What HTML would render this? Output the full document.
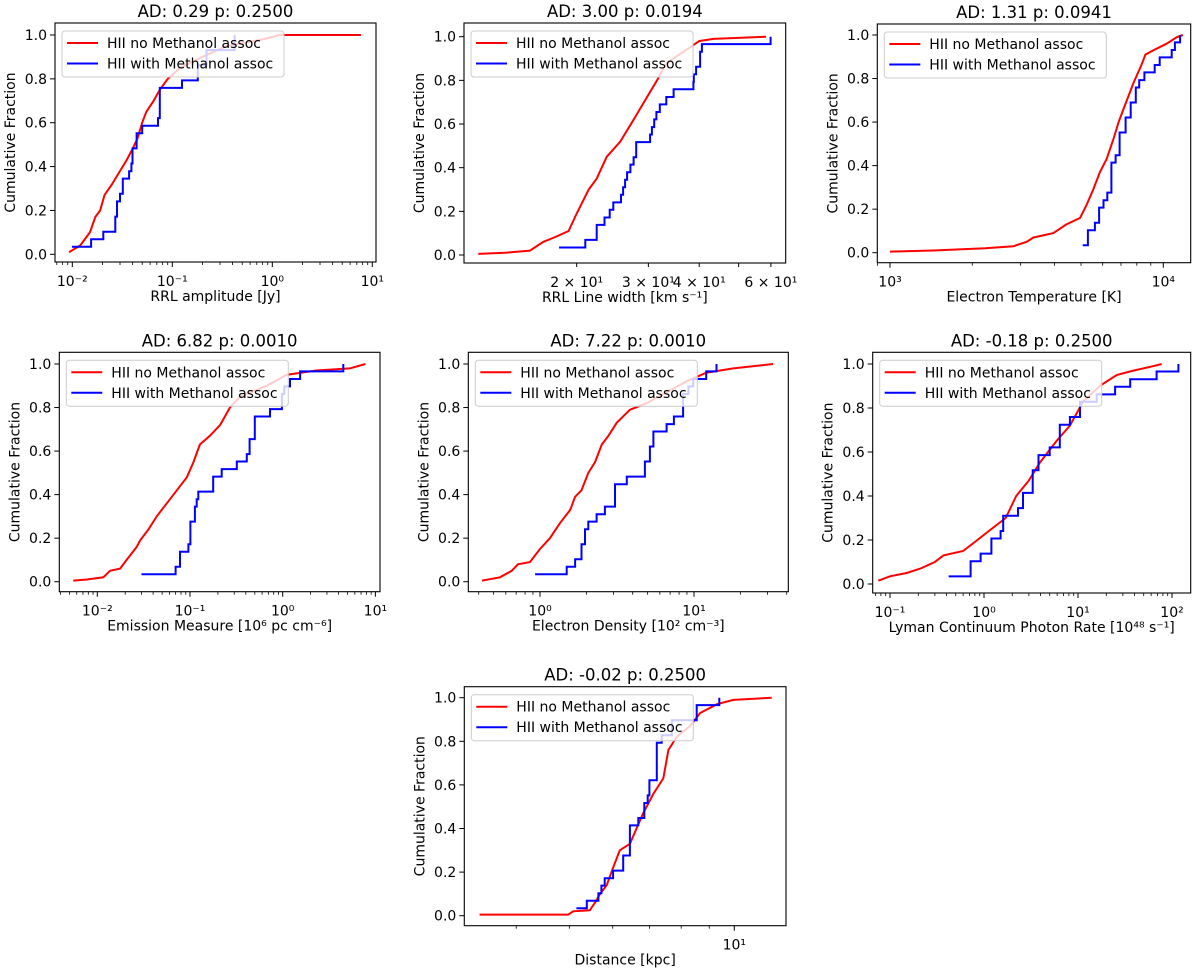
<!DOCTYPE html>
<html><head><meta charset="utf-8"><style>
html,body{margin:0;padding:0;background:#fff;}
svg{display:block;font-family:"DejaVu Sans","Liberation Sans",sans-serif;}
</style></head><body>
<svg id="fig" width="1200" height="972" viewBox="0 0 1200 972" xmlns="http://www.w3.org/2000/svg"></svg>
<script>
// ---- data arrays ----
const p1RedX=[0.0093,0.012,0.015,0.017,0.019,0.021,0.025,0.03,0.035,0.04,0.045,0.05,0.055,0.065,0.075,0.09,0.12,0.2,0.35,0.8,1.2,7.7];
const p1RedY=[0.01,0.04,0.1,0.17,0.2,0.27,0.32,0.38,0.43,0.48,0.53,0.6,0.65,0.7,0.75,0.8,0.85,0.9,0.95,0.98,1.0,1.0];
const p1BlueX=[0.0099,0.0154,0.0204,0.0269,0.028,0.030,0.032,0.037,0.039,0.040,0.044,0.050,0.072,0.075,0.125,0.18,0.22,0.42];
const p1BlueY=[0.0345,0.069,0.103,0.172,0.241,0.276,0.345,0.379,0.414,0.483,0.552,0.586,0.621,0.759,0.793,0.862,0.931,1.0];

const p2RedX=[11.46,13.33,15.35,16.55,17.6,19.1,20,21.4,22.4,23.7,25.6,27.6,29.7,31.5,33.3,37.9,40,43.3,58.4];
const p2RedY=[0.005,0.01,0.02,0.06,0.08,0.11,0.19,0.3,0.35,0.45,0.52,0.62,0.72,0.8,0.88,0.95,0.98,0.99,1.0];
const p2BlueX=[18.1,21.0,22.4,22.4,23.4,24.1,24.6,25.7,26.0,26.3,26.6,27.1,27.6,28.0,30.3,30.6,31.0,31.4,32.0,33.2,34.6,38.7,38.8,39.3,40.2,40.6,59.9];
const p2BlueY=[0.0345,0.069,0.103,0.138,0.172,0.207,0.241,0.276,0.31,0.345,0.379,0.414,0.448,0.517,0.552,0.586,0.621,0.655,0.69,0.724,0.759,0.793,0.828,0.862,0.931,0.966,1.0];

const p3RedX=[1000,1440,2230,2830,3160,3350,3960,4420,4960,5240,5540,5860,6200,6560,6860,7150,7460,7780,8300,8600,9200,10280,11200,11800];
const p3RedY=[0.005,0.01,0.02,0.03,0.05,0.07,0.09,0.13,0.16,0.22,0.29,0.37,0.43,0.52,0.6,0.66,0.72,0.78,0.86,0.91,0.93,0.96,0.99,1.0];
const p3BlueX=[5070,5300,5620,5820,6040,6240,6460,6690,6920,7280,7600,7930,8160,8530,9300,9700,10730,11030,11520];
const p3BlueY=[0.0345,0.103,0.138,0.207,0.241,0.276,0.414,0.448,0.552,0.621,0.69,0.759,0.793,0.828,0.862,0.897,0.931,0.966,1.0];

const p4RedX=[0.0055,0.0077,0.0116,0.0137,0.0176,0.0207,0.0266,0.029,0.0356,0.0437,0.0562,0.072,0.0925,0.109,0.128,0.164,0.211,0.27,0.346,0.67,1.1,2.3,5.3,7.8];
const p4RedY=[0.005,0.01,0.02,0.05,0.06,0.1,0.16,0.19,0.24,0.3,0.36,0.42,0.48,0.55,0.63,0.67,0.72,0.8,0.85,0.9,0.95,0.97,0.98,1.0];
const p4BlueX=[0.03,0.07,0.078,0.096,0.101,0.113,0.118,0.123,0.178,0.22,0.32,0.41,0.44,0.5,0.73,0.98,1.04,1.2,1.54,4.5];
const p4BlueY=[0.0345,0.069,0.138,0.172,0.276,0.345,0.379,0.414,0.483,0.517,0.552,0.586,0.655,0.759,0.793,0.862,0.897,0.931,0.966,1.0];

const p5RedX=[0.42,0.55,0.655,0.72,0.86,1.0,1.16,1.35,1.57,1.69,1.86,2.06,2.28,2.52,2.78,3.15,3.84,4.93,6.64,8.93,12,18,32.6];
const p5RedY=[0.005,0.02,0.05,0.08,0.09,0.15,0.2,0.27,0.33,0.39,0.42,0.5,0.55,0.63,0.67,0.73,0.79,0.82,0.87,0.92,0.96,0.98,1.0];
const p5BlueX=[0.93,1.49,1.69,1.86,1.96,2.06,2.33,2.64,3.07,3.66,4.8,5.17,5.45,6.64,7.4,8.5,9.2,9.9,12,14];
const p5BlueY=[0.0345,0.069,0.103,0.172,0.241,0.276,0.31,0.345,0.448,0.483,0.552,0.621,0.69,0.724,0.759,0.862,0.897,0.931,0.966,1.0];

const p6RedX=[0.075,0.1,0.15,0.21,0.3,0.37,0.6,0.85,1.2,1.7,2.2,3.0,3.9,5.9,8.2,11.4,17,25.8,38.7,63,77.6];
const p6RedY=[0.015,0.035,0.05,0.07,0.1,0.13,0.15,0.2,0.25,0.3,0.4,0.47,0.55,0.65,0.72,0.83,0.9,0.95,0.97,0.99,1.0];
const p6BlueX=[0.42,0.72,0.92,1.2,1.5,1.6,2.3,2.6,3.3,3.8,5.0,6.4,8.2,10.5,15.8,24.8,35.9,68.6,117];
const p6BlueY=[0.0345,0.103,0.138,0.207,0.241,0.31,0.345,0.414,0.517,0.586,0.621,0.724,0.759,0.828,0.862,0.897,0.931,0.966,1.0];

const p7RedX=[3.43,4.98,5.08,5.45,5.57,5.69,5.85,6.01,6.18,6.45,6.63,6.82,7.12,7.42,7.58,7.85,8.3,8.66,9.3,9.96,11.7];
const p7RedY=[0.005,0.005,0.02,0.025,0.06,0.1,0.14,0.22,0.3,0.33,0.4,0.47,0.56,0.63,0.76,0.82,0.87,0.93,0.97,0.99,1.0];
const p7BlueX=[5.15,5.38,5.65,5.72,5.8,6.01,6.27,6.45,6.68,6.85,6.95,7.0,7.22,7.37,7.69,8.54,9.39];
const p7BlueY=[0.0345,0.069,0.103,0.138,0.172,0.207,0.276,0.414,0.448,0.517,0.552,0.621,0.793,0.828,0.897,0.966,1.0];

const titles=["AD: 0.29 p: 0.2500","AD: 3.00 p: 0.0194","AD: 1.31 p: 0.0941","AD: 6.82 p: 0.0010","AD: 7.22 p: 0.0010","AD: -0.18 p: 0.2500","AD: -0.02 p: 0.2500"];
const xLabels=["RRL amplitude [Jy]","RRL Line width [km s⁻¹]","Electron Temperature [K]","Emission Measure [10⁶ pc cm⁻⁶]","Electron Density [10² cm⁻³]","Lyman Continuum Photon Rate [10⁴⁸ s⁻¹]","Distance [kpc]"];
const yTicks=[0,0.2,0.4,0.6,0.8,1.0];
const yTickLabels=["0.0","0.2","0.4","0.6","0.8","1.0"];
const p2TickVals=[20,30,40,50,60];
const p2TickLabels=["2 × 10¹","3 × 10¹","4 × 10¹","","6 × 10¹"];
const supMap={"-":"⁻","0":"⁰","1":"¹","2":"²","3":"³","4":"⁴","5":"⁵","6":"⁶","7":"⁷","8":"⁸","9":"⁹"};

// ---- layout (pixel geometry, not data) ----
const panels=[
 {L:55,R:376,T:23,B:262,y0:254.3,y1:35,rv:0.01,rp:72.3,ppd:100,rx:p1RedX,ry:p1RedY,bx:p1BlueX,by:p1BlueY},
 {L:464,R:785.7,T:23,B:263,y0:255,y1:36.7,rv:20,rp:576.7,ppd:407,rx:p2RedX,ry:p2RedY,bx:p2BlueX,by:p2BlueY,custom:true},
 {L:877.3,R:1190.7,T:24,B:262.7,y0:252.7,y1:35,rv:1000,rp:890,ppd:273.3,rx:p3RedX,ry:p3RedY,bx:p3BlueX,by:p3BlueY},
 {L:59.3,R:380,T:352.3,B:591.7,y0:581.7,y1:364,rv:0.01,rp:97.3,ppd:92.7,rx:p4RedX,ry:p4RedY,bx:p4BlueX,by:p4BlueY},
 {L:468.3,R:788.3,T:352.3,B:591.7,y0:581.7,y1:364,rv:1,rp:540,ppd:154,rx:p5RedX,ry:p5RedY,bx:p5BlueX,by:p5BlueY},
 {L:872.7,R:1190.7,T:352.3,B:593,y0:584,y1:364,rv:1,rp:984,ppd:94,rx:p6RedX,ry:p6RedY,bx:p6BlueX,by:p6BlueY},
 {L:464.3,R:786,T:686.7,B:925.7,y0:915.7,y1:697.7,rv:10,rp:734.3,ppd:548,rx:p7RedX,ry:p7RedY,bx:p7BlueX,by:p7BlueY}
];
const NS="http://www.w3.org/2000/svg";
const svg=document.getElementById('fig');
function mk(tag,attrs,parent){const e=document.createElementNS(NS,tag);for(const k in attrs)e.setAttribute(k,attrs[k]);(parent||svg).appendChild(e);return e;}
function sup(n){return "10"+String(n).split("").map(c=>supMap[c]).join("");}

panels.forEach((p,i)=>{
  const g=mk('g',{});
  
  
  const xs=v=>p.rp+Math.log10(v/p.rv)*p.ppd;
  const ys=v=>p.y0+(p.y1-p.y0)*v;
  const vAt=px=>p.rv*Math.pow(10,(px-p.rp)/p.ppd);
  const cx=(p.L+p.R)/2, cy=(p.T+p.B)/2;
  const t=mk('text',{x:cx,y:p.T-6,'text-anchor':'middle','font-size':16.5,fill:'#000'},g);
  t.textContent=titles[i];
  
  
  const cp=mk('clipPath',{id:'clip'+i},g);
  mk('rect',{x:p.L,y:p.T,width:p.R-p.L,height:p.B-p.T},cp);
  let d='';
  p.rx.forEach((v,k)=>{d+=(k?'L':'M')+xs(v).toFixed(1)+','+ys(p.ry[k]).toFixed(1);});
  const red=mk('path',{d:d,fill:'none',stroke:'#ff0000','stroke-width':2,'clip-path':'url(#clip'+i+')'},g);
  
  
  let db='M'+xs(p.bx[0]).toFixed(1)+','+ys(p.by[0]).toFixed(1);
  for(let k=1;k<p.bx.length;k++){db+='L'+xs(p.bx[k]).toFixed(1)+','+ys(p.by[k-1]).toFixed(1)+'L'+xs(p.bx[k]).toFixed(1)+','+ys(p.by[k]).toFixed(1);}
  const blue=mk('path',{d:db,fill:'none',stroke:'#0000ff','stroke-width':2,'clip-path':'url(#clip'+i+')'},g);
  
  
  const fr=mk('rect',{x:p.L,y:p.T,width:p.R-p.L,height:p.B-p.T,fill:'none',stroke:'#000','stroke-width':1.1},g);
  
  
  yTicks.forEach((v,k)=>{
    const y=ys(v);
    mk('line',{x1:p.L-5,x2:p.L,y1:y,y2:y,stroke:'#000','stroke-width':1},g);
    const tl=mk('text',{x:p.L-8,y:y+5,'text-anchor':'end','font-size':14},g);
    tl.textContent=yTickLabels[k];
    
    
  });
  const vmin=vAt(p.L), vmax=vAt(p.R);
  if(p.custom){
    p2TickVals.forEach((v,k)=>{
      const x=xs(v);
      mk('line',{x1:x,x2:x,y1:p.B,y2:p.B+4,stroke:'#000','stroke-width':1},g);
      if(p2TickLabels[k]){
        const tl=mk('text',{x:x,y:p.B+24,'text-anchor':'middle','font-size':14},g);
        tl.textContent=p2TickLabels[k];
        
        
      }
    });
  } else {
    for(let dec=Math.floor(Math.log10(vmin));dec<=Math.ceil(Math.log10(vmax));dec++){
      for(let m=1;m<=9;m++){
        const v=m*Math.pow(10,dec);
        if(v<vmin||v>vmax)continue;
        const x=xs(v);
        mk('line',{x1:x,x2:x,y1:p.B,y2:p.B+(m===1?5:3),stroke:'#000','stroke-width':m===1?1:0.8},g);
        if(m===1){
          const tl=mk('text',{x:x,y:p.B+24,'text-anchor':'middle','font-size':14},g);
          tl.textContent=sup(dec);
          
          
        }
      }
    }
  }
  const xl=mk('text',{x:cx,y:p.B+39,'text-anchor':'middle','font-size':14},g);
  xl.textContent=xLabels[i];
  
  
  const yl=mk('text',{x:0,y:0,'text-anchor':'middle','font-size':14,transform:'translate('+(p.L-40)+','+cy+') rotate(-90)'},g);
  yl.textContent='Cumulative Fraction';
  
  
  const lx=p.L+7, ly=p.T+8;
  const lg=mk('g',{},g);
  
  
  mk('rect',{x:lx,y:ly,width:222,height:46,rx:3,fill:'#fff','fill-opacity':0.8,stroke:'#cccccc','stroke-width':1},lg);
  const e1=mk('g',{},lg);
  
  
  mk('line',{x1:lx+5,x2:lx+36,y1:ly+12,y2:ly+12,stroke:'#ff0000','stroke-width':2},e1);
  const lt1=mk('text',{x:lx+45,y:ly+17,'font-size':14},e1);
  lt1.textContent='HII no Methanol assoc';
  const e2=mk('g',{},lg);
  
  
  mk('line',{x1:lx+5,x2:lx+36,y1:ly+32.5,y2:ly+32.5,stroke:'#0000ff','stroke-width':2},e2);
  const lt2=mk('text',{x:lx+45,y:ly+37.5,'font-size':14},e2);
  lt2.textContent='HII with Methanol assoc';
});
</script>
</body></html>
